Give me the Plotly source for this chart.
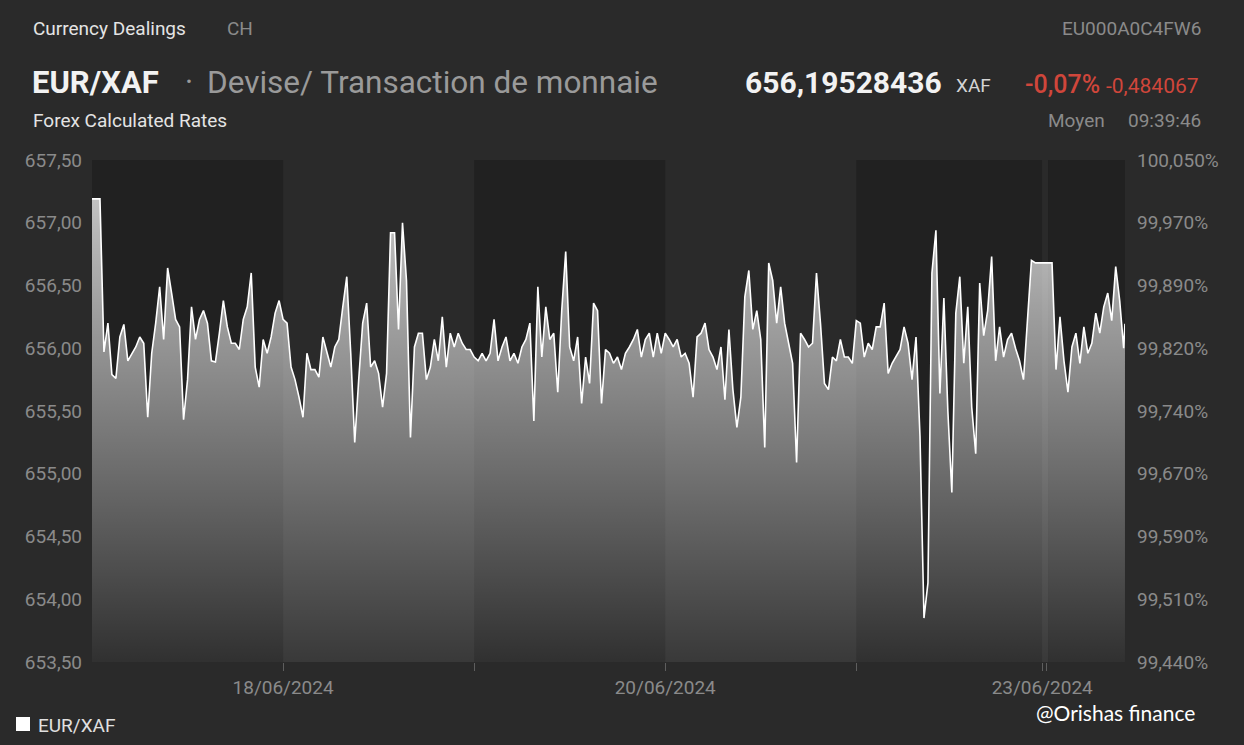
import pandas as pd
import plotly.graph_objects as go

# ---------------- data (30-minute readings, EUR/XAF) ----------------
day17 = [657.19, 657.19, 657.19, 655.97, 656.20, 655.79, 655.76, 656.09, 656.19, 655.90,
         655.96, 656.01, 656.09, 656.04, 655.45, 655.96, 656.20, 656.49, 656.07, 656.64,
         656.44, 656.23, 656.17, 655.43, 655.75, 656.33, 656.07, 656.23, 656.30, 656.20,
         655.90, 655.89, 656.12, 656.38, 656.17, 656.04, 656.04, 655.99, 656.23, 656.33,
         656.60, 655.85, 655.69, 656.07, 655.96, 656.09, 656.28, 656.38]
day18 = [656.23, 656.20, 655.85, 655.75, 655.61, 655.45, 655.96, 655.83, 655.83, 655.77,
         656.09, 655.96, 655.85, 656.01, 656.07, 656.33, 656.57, 655.96, 655.25, 655.75,
         656.20, 656.36, 655.85, 655.90, 655.80, 655.53, 655.80, 656.92, 656.92, 656.15,
         657.00, 656.54, 655.29, 656.01, 656.12, 656.12, 655.75, 655.85, 656.07, 655.90,
         656.25, 655.85, 656.12, 656.01, 656.12, 656.04, 655.99, 655.99]
day19 = [655.93, 655.90, 655.96, 655.90, 655.96, 656.23, 655.90, 656.01, 656.09, 655.90,
         655.96, 655.88, 656.01, 656.07, 656.20, 655.42, 656.49, 655.93, 656.33, 656.07,
         656.12, 655.65, 656.30, 656.77, 656.01, 655.90, 656.09, 655.56, 655.93, 655.72,
         656.36, 656.30, 655.56, 655.99, 655.96, 655.88, 655.93, 655.83, 655.96, 656.01,
         656.07, 656.15, 655.93, 656.07, 656.12, 655.93, 656.12, 655.96]
day20 = [656.12, 656.07, 656.01, 656.07, 655.93, 655.96, 655.88, 655.61, 656.09, 656.12,
         656.20, 655.99, 655.93, 655.83, 656.01, 655.59, 656.15, 655.67, 655.37, 655.61,
         656.41, 656.62, 656.15, 656.30, 656.07, 655.21, 656.68, 656.54, 656.20, 656.49,
         656.20, 656.04, 655.88, 655.09, 656.12, 656.07, 656.01, 656.04, 656.60, 656.20,
         655.72, 655.67, 655.93, 655.90, 656.07, 655.93, 655.93, 655.88]
day21 = [656.22, 656.20, 655.93, 656.04, 655.99, 656.17, 656.17, 656.36, 655.80, 655.88,
         655.93, 655.99, 656.17, 656.04, 655.75, 656.09, 655.30, 653.85, 654.13, 656.60,
         656.94, 655.64, 656.40, 655.50, 654.85, 656.28, 656.57, 655.88, 656.33, 655.53,
         655.16, 656.52, 656.10, 656.30, 656.73, 655.90, 656.17, 655.93, 656.07, 656.12,
         656.00, 655.90, 655.75, 656.20, 656.70, 656.68, 656.68]
day23 = [656.68]
day24 = [656.68, 656.68, 655.83, 656.25, 655.90, 655.65, 656.01, 656.12, 655.88, 656.17,
         655.96, 656.04, 656.28, 656.12, 656.33, 656.44, 656.22, 656.65, 656.38, 656.00]
last_quote_time = "2024-06-24 09:39:46"
last_quote = 656.195

day_starts = {"day17": "2024-06-17 00:00", "day18": "2024-06-18 00:00", "day19": "2024-06-19 00:00",
              "day20": "2024-06-20 00:00", "day21": "2024-06-21 00:00", "day23": "2024-06-23 23:30",
              "day24": "2024-06-24 00:00"}

y_ticks = [653.5, 654.0, 654.5, 655.0, 655.5, 656.0, 656.5, 657.0, 657.5]
pct_labels = ["99,440%", "99,510%", "99,590%", "99,670%", "99,740%", "99,820%", "99,890%",
              "99,970%", "100,050%"]

x_tick_vals = ["2024-06-18", "2024-06-19", "2024-06-20", "2024-06-21",
               "2024-06-23 23:16", "2024-06-23 23:45"]
x_tick_text = ["18/06/2024", "", "20/06/2024", "", "23/06/2024", ""]

weekend_break_start = "2024-06-21 23:20"
weekend_break_end = "2024-06-23 23:15"
dark_bands = [("2024-06-17", "2024-06-18"), ("2024-06-19", "2024-06-20"),
              ("2024-06-21", "2024-06-23 23:15"), ("2024-06-24", "2024-06-24 09:40")]
x_range = ["2024-06-17 00:00", "2024-06-24 09:40"]

# ---------------- build series ----------------
series = [("day17", day17), ("day18", day18), ("day19", day19), ("day20", day20),
          ("day21", day21), ("day23", day23), ("day24", day24)]
times, values = [], []
for key, vals in series:
    times += list(pd.date_range(day_starts[key], periods=len(vals), freq="30min"))
    values += vals
times.append(pd.Timestamp(last_quote_time))
values.append(last_quote)

# ---------------- layout helpers ----------------
W, H = 1244, 745
ML, MR, MT, MB = 92, 119, 160, 83
PW, PH = W - ML - MR, H - MT - MB


def px(x, y):
    return (x - ML) / PW, (H - MB - y) / PH


BG = "#2a2a2a"
DARK = "#212121"
GREY = "#8a8a8a"
RED = "#d0463b"
FONT = "Roboto"

fig = go.Figure()
fig.add_trace(go.Scatter(
    x=times, y=values, mode="lines", name="EUR/XAF", showlegend=False,
    line=dict(color="#ffffff", width=1.6, shape="linear"),
    fill="tozeroy",
    fillgradient=dict(type="vertical",
                      colorscale=[[0, "rgba(255,255,255,0.07)"], [1, "rgba(255,255,255,0.78)"]],
                      start=653.5, stop=657.5),
    hoverinfo="skip",
))
# same series on the percent axis (invisible) so that the right axis is drawn
fig.add_trace(go.Scatter(
    x=times, y=values, yaxis="y2", mode="lines", line=dict(width=0), opacity=0,
    showlegend=False, hoverinfo="skip",
))

shapes = []
for x0, x1 in dark_bands:
    shapes.append(dict(type="rect", xref="x", yref="paper", x0=x0, x1=x1, y0=0, y1=1,
                       fillcolor=DARK, line=dict(width=0), layer="below"))
# legend swatch
lx0, ly0 = px(16, 731)
lx1, ly1 = px(30, 717)
shapes.append(dict(type="rect", xref="paper", yref="paper", x0=lx0, x1=lx1, y0=ly0, y1=ly1,
                   fillcolor="#ffffff", line=dict(width=0)))

annotations = []


def text(t, x, y, size, color, anchor="left", family=FONT, weight=None):
    ax, ay = px(x, y)
    f = dict(family=family, size=size, color=color)
    if weight:
        f["weight"] = weight
    annotations.append(dict(text=t, x=ax, y=ay, xref="paper", yref="paper", xanchor=anchor,
                            yanchor="middle", showarrow=False, font=f))


text("Currency Dealings", 31, 28, 19, "#e4e4e4")
text("CH", 225, 28, 19, GREY)
text("EU000A0C4FW6", 1203, 28, 19, GREY, anchor="right")
text("<b>EUR/XAF</b>", 30, 83, 31, "#f2f2f2")
text("·", 183, 83, 31, "#9a9a9a")
text("Devise/ Transaction de monnaie", 205, 83, 31.5, "#9a9a9a")
text("<b>656,19528436</b>", 743, 83, 30, "#f2f2f2")
text("XAF", 954, 86, 19, "#d4d4d4")
text("-0,07%", 1023, 85, 25, RED, weight=500)
text("-0,484067", 1104, 86, 21, RED)
text("Forex Calculated Rates", 31, 120, 19, "#e4e4e4")
text("Moyen", 1046, 120, 19, GREY)
text("09:39:46", 1203, 120, 19, GREY, anchor="right")
text("EUR/XAF", 36, 725, 19, "#e0e0e0")
text("@Orishas finance", 1034, 712, 21, "#ffffff", family="Lato")

fig.update_layout(
    width=W, height=H,
    margin=dict(l=ML, r=MR, t=MT, b=MB, pad=0),
    paper_bgcolor=BG, plot_bgcolor=BG,
    separators=", ",
    showlegend=False,
    shapes=shapes,
    annotations=annotations,
    xaxis=dict(
        type="date", range=x_range,
        rangebreaks=[dict(values=[weekend_break_start],
                          dvalue=(pd.Timestamp(weekend_break_end) - pd.Timestamp(weekend_break_start)).total_seconds() * 1000)],
        tickmode="array", tickvals=x_tick_vals, ticktext=x_tick_text,
        ticks="outside", ticklen=8, tickcolor="#5e5e5e", tickwidth=1,
        showgrid=False, zeroline=False, showline=False,
        tickfont=dict(family=FONT, size=19, color=GREY),
    ),
    yaxis=dict(
        range=[653.5, 657.5], tickmode="array", tickvals=y_ticks, tickformat=".2f",
        showgrid=False, zeroline=False, showline=False, ticks="",
        ticklabelstandoff=9,
        tickfont=dict(family=FONT, size=19, color=GREY),
    ),
    yaxis2=dict(
        range=[653.5, 657.5], overlaying="y", side="right", anchor="x",
        tickmode="array", tickvals=y_ticks, ticktext=pct_labels,
        showgrid=False, zeroline=False, showline=False, ticks="",
        ticklabelstandoff=11,
        tickfont=dict(family=FONT, size=19, color=GREY),
    ),
)

fig.write_html("out.html", config={"displayModeBar": False, "staticPlot": True})

# remove the browser's default page margin so the figure sits at the window origin
with open("out.html", encoding="utf-8") as fh:
    html = fh.read()
html = html.replace("<head>", "<head><style>html,body{margin:0;padding:0;background:#2a2a2a;}</style>", 1)
with open("out.html", "w", encoding="utf-8") as fh:
    fh.write(html)
